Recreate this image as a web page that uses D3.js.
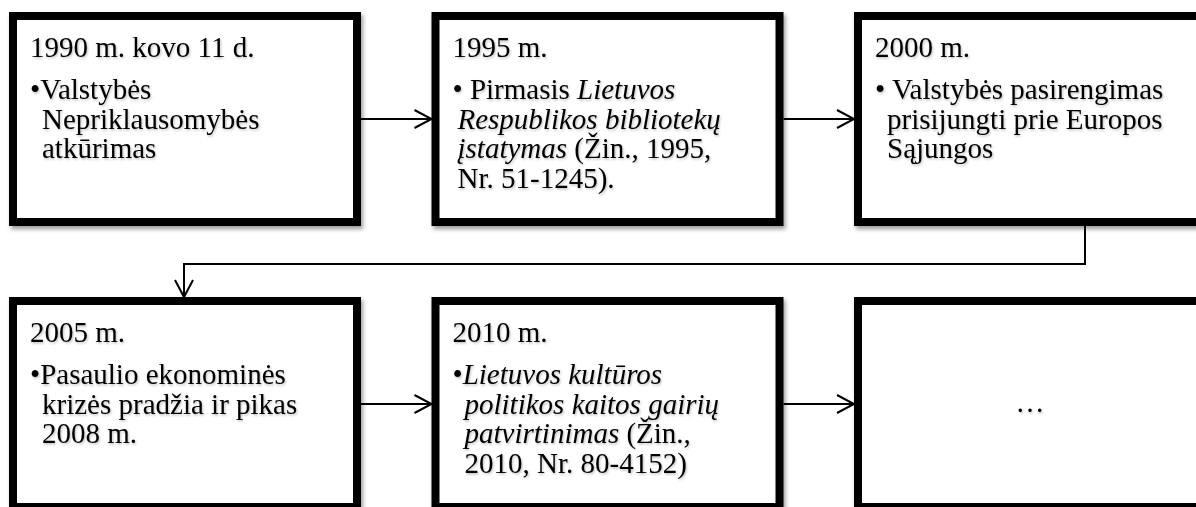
<!DOCTYPE html>
<html>
<head>
<meta charset="utf-8">
<script src="https://cdn.jsdelivr.net/npm/d3@7"></script>
<style>
  body { margin: 0; background: #fff; }
  svg { display: block; }
</style>
</head>
<body>
<div id="chart"></div>
<script>
// timeline content, one entry per box (row by row)
var titles = ["1990 m. kovo 11 d.", "1995 m.", "2000 m.", "2005 m.", "2010 m.", ""];
// body lines, text between _ _ is italic
var bodies = [
  ["•Valstybės", "Nepriklausomybės", "atkūrimas"],
  ["• Pirmasis _Lietuvos_", "_Respublikos bibliotekų_", "_įstatymas_ (Žin., 1995,", "Nr. 51-1245)."],
  ["• Valstybės pasirengimas", "prisijungti prie Europos", "Sąjungos"],
  ["•Pasaulio ekonominės", "krizės pradžia ir pikas", "2008 m."],
  ["•_Lietuvos kultūros_", "_politikos kaitos gairių_", "_patvirtinimas_ (Žin.,", "2010, Nr. 80-4152)"],
  []
];
var centerText = ["", "", "", "", "", "…"];
var cols = [0, 1, 2, 0, 1, 2];
var rows = [0, 0, 0, 1, 1, 1];

var width = 1196,
    height = 507,
    boxW = 352,
    boxH = 214,
    border = 8;

var x = d3.scaleLinear().domain([0, 2]).range([9, 854]);
var y = d3.scaleLinear().domain([0, 1]).range([12, 297]);

var svg = d3.select("#chart")
  .append("svg")
    .attr("width", width)
    .attr("height", height);

var defs = svg.append("defs");
var sh = defs.append("filter").attr("id", "boxshadow")
  .attr("x", "-5%").attr("y", "-5%").attr("width", "115%").attr("height", "115%");
sh.append("feDropShadow").attr("dx", 2).attr("dy", 3).attr("stdDeviation", 2)
  .attr("flood-color", "#000").attr("flood-opacity", 0.4);
var tsh = defs.append("filter").attr("id", "textshadow");
tsh.append("feDropShadow").attr("dx", 1).attr("dy", 1.5).attr("stdDeviation", 0.8)
  .attr("flood-color", "#000").attr("flood-opacity", 0.25);

var data = titles.map(function(t, i) {
  return {title: t, body: bodies[i], center: centerText[i], col: cols[i], row: rows[i]};
});

// connectors first so boxes sit above them
function arrowHead(g, tx, ty, dir) {
  // open V arrowhead pointing in dir ("right" or "down")
  var L = 17, w = 9, d;
  if (dir == "right") d = "M" + (tx - L) + "," + (ty - w) + "L" + tx + "," + ty + "L" + (tx - L) + "," + (ty + w);
  else d = "M" + (tx - w) + "," + (ty - L) + "L" + tx + "," + ty + "L" + (tx + w) + "," + (ty - L);
  g.append("path").attr("d", d).attr("fill", "none").attr("stroke", "#000").attr("stroke-width", 2);
}

var links = svg.append("g");
data.forEach(function(d, i) {
  if (i == data.length - 1) return;
  var n = data[i + 1];
  if (n.row == d.row) {
    var ay = y(d.row) + boxH / 2;
    var x1 = x(d.col) + boxW, x2 = x(n.col);
    links.append("line").attr("x1", x1).attr("y1", ay).attr("x2", x2 - 1).attr("y2", ay)
      .attr("stroke", "#000").attr("stroke-width", 2);
    arrowHead(links, x2, ay, "right");
  } else {
    var sx = 1085, ex = 184;
    var midY = y(d.row) + boxH + 38;
    links.append("path")
      .attr("d", "M" + sx + "," + (y(d.row) + boxH) + "V" + midY + "H" + ex + "V" + (y(n.row) - 1))
      .attr("fill", "none").attr("stroke", "#000").attr("stroke-width", 2);
    arrowHead(links, ex, y(n.row), "down");
  }
});

var boxes = svg.selectAll("g.box")
  .data(data)
  .join("g")
    .attr("class", "box")
    .attr("transform", function(d) { return "translate(" + x(d.col) + "," + y(d.row) + ")"; });

boxes.append("rect")
  .attr("x", border / 2).attr("y", border / 2)
  .attr("width", boxW - border).attr("height", boxH - border)
  .attr("fill", "#fff")
  .attr("stroke", "#000")
  .attr("stroke-width", border)
  .attr("filter", "url(#boxshadow)");

var pad = 21, indent = 12, lineH = 29.5;

var txt = boxes.append("g").attr("filter", "url(#textshadow)")
  .style("font-family", "'Liberation Serif', 'Times New Roman', serif")
  .style("font-size", "29px")
  .attr("fill", "#000");

txt.append("text")
  .attr("x", pad)
  .attr("y", 45)
  .text(function(d) { return d.title; });

txt.each(function(d, i) {
  var g = d3.select(this);
  d.body.forEach(function(line, k) {
    var t = g.append("text")
      .attr("x", k == 0 ? pad : pad + (i == 1 ? 5 : indent))
      .attr("y", 87 + k * lineH);
    line.split("_").forEach(function(seg, j) {
      if (!seg) return;
      t.append("tspan").text(seg).style("font-style", j % 2 ? "italic" : "normal");
    });
  });
  if (d.center) {
    g.append("text")
      .attr("x", boxW / 2)
      .attr("y", boxH / 2 + 8)
      .attr("text-anchor", "middle")
      .style("font-size", "29px")
      .text(d.center);
  }
});
</script>
</body>
</html>
